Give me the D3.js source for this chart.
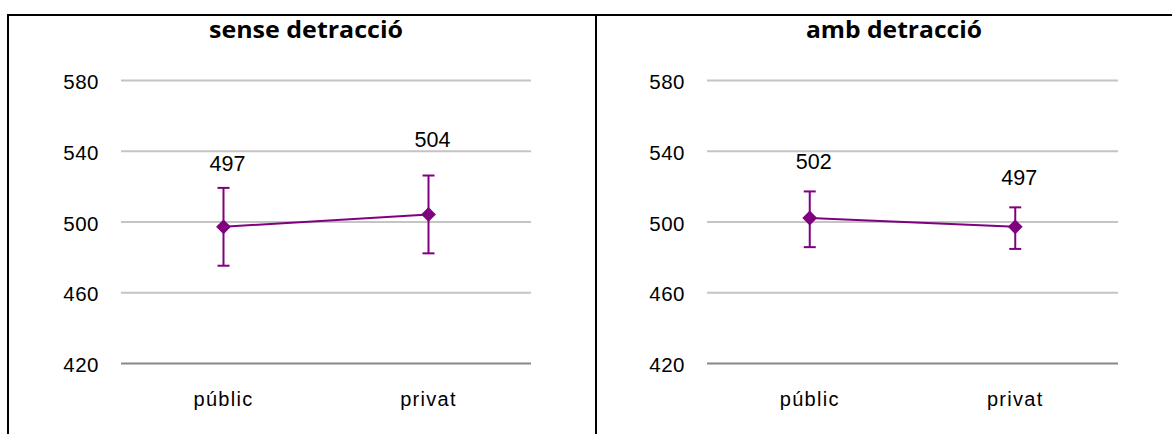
<!DOCTYPE html>
<html>
<head>
<meta charset="utf-8">
<script src="https://cdn.jsdelivr.net/npm/d3@7"></script>
<style>
  html, body { margin: 0; padding: 0; background: #fff; }
  svg { display: block; }
</style>
</head>
<body>
<svg id="chart" width="1172" height="434"></svg>
<script>
// ---- data ----
const categories = ["públic", "privat"];
const panelTitles = ["sense detracció", "amb detracció"];
const meanSense = [497, 504];
const lowerSense = [475, 482];
const upperSense = [519, 526];
const meanAmb = [502, 497];
const lowerAmb = [485.5, 484.5];
const upperAmb = [517, 508];
const yTicks = [420, 460, 500, 540, 580];

// ---- layout (positions / styles only) ----
const panels = [
  { title: panelTitles[0], mean: meanSense, lower: lowerSense, upper: upperSense,
    x0: 121, x1: 531, titleX: 306, titleW: 194, labelDy: [25, 36] },
  { title: panelTitles[1], mean: meanAmb, lower: lowerAmb, upper: upperAmb,
    x0: 707, x1: 1118, titleX: 894, titleW: 176, labelDy: [30, 30] }
];
const purple = "#800080";
const svg = d3.select("#chart");

// frame lines
svg.append("line").attr("x1", 8).attr("x2", 1172).attr("y1", 15).attr("y2", 15)
  .attr("stroke", "#000").attr("stroke-width", 2);
svg.append("line").attr("x1", 8).attr("x2", 8).attr("y1", 14).attr("y2", 434)
  .attr("stroke", "#000").attr("stroke-width", 2);
svg.append("line").attr("x1", 596).attr("x2", 596).attr("y1", 14).attr("y2", 434)
  .attr("stroke", "#000").attr("stroke-width", 2);

const y = d3.scaleLinear().domain([420, 580]).range([363, 80]);

panels.forEach(p => {
  const g = svg.append("g");
  const x = d3.scaleBand().domain(categories).range([p.x0, p.x1]);
  const cx = c => x(c) + x.bandwidth() / 2;

  // title
  g.append("text").attr("x", p.titleX - p.titleW / 2).attr("y", 38)
    .attr("textLength", p.titleW).attr("lengthAdjust", "spacingAndGlyphs")
    .attr("font-family", "'Open Sans', Lato, sans-serif")
    .attr("font-weight", "bold").attr("font-size", 22.5)
    .attr("fill", "#000").text(p.title);

  // y axis via d3 axis (gridlines + labels)
  const axis = d3.axisLeft(y).tickValues(yTicks)
    .tickSize(-(p.x1 - p.x0)).tickPadding(22).tickFormat(d3.format("d"));
  const ag = g.append("g").attr("transform", `translate(${p.x0},0)`).call(axis);
  ag.select(".domain").remove();
  ag.selectAll(".tick line")
    .attr("stroke", d => d === 420 ? "#888" : "#c4c4c4")
    .attr("stroke-width", 2);
  ag.selectAll(".tick text")
    .attr("font-family", "'Liberation Sans', Arial, sans-serif")
    .attr("font-size", 20.5).attr("fill", "#000")
    .attr("dy", "0.32em").attr("y", 2).attr("letter-spacing", 0.5);

  // x category labels
  g.selectAll(".cat").data(categories).enter().append("text")
    .attr("x", d => cx(d)).attr("y", 406)
    .attr("text-anchor", "middle")
    .attr("font-family", "'Liberation Sans', Arial, sans-serif")
    .attr("font-size", 20).attr("letter-spacing", 1.3).attr("fill", "#000")
    .text(d => d);

  const pts = categories.map((c, i) => ({ c, i, m: p.mean[i], lo: p.lower[i], hi: p.upper[i] }));

  // connecting line
  g.append("path").datum(pts)
    .attr("d", d3.line().x(d => cx(d.c)).y(d => y(d.m)))
    .attr("fill", "none").attr("stroke", purple).attr("stroke-width", 2);

  // error bars
  const eb = g.selectAll(".eb").data(pts).enter().append("g");
  eb.append("line").attr("x1", d => cx(d.c)).attr("x2", d => cx(d.c))
    .attr("y1", d => y(d.lo)).attr("y2", d => y(d.hi))
    .attr("stroke", purple).attr("stroke-width", 2);
  ["lo", "hi"].forEach(k => {
    eb.append("line").attr("x1", d => cx(d.c) - 6).attr("x2", d => cx(d.c) + 6)
      .attr("y1", d => y(d[k])).attr("y2", d => y(d[k]))
      .attr("stroke", purple).attr("stroke-width", 2);
  });

  // diamond markers
  g.selectAll(".mk").data(pts).enter().append("path")
    .attr("d", d3.symbol(d3.symbolSquare).size(110)())
    .attr("transform", d => `translate(${cx(d.c)},${y(d.m)}) rotate(45)`)
    .attr("fill", purple);

  // data labels
  g.selectAll(".lbl").data(pts).enter().append("text")
    .attr("x", d => cx(d.c) + 4)
    .attr("y", d => y(d.hi) - p.labelDy[d.i])
    .attr("dy", "0.36em")
    .attr("text-anchor", "middle")
    .attr("font-family", "'Liberation Sans', Arial, sans-serif")
    .attr("font-size", 21.5).attr("fill", "#000")
    .text(d => d.m);
});
</script>
</body>
</html>
